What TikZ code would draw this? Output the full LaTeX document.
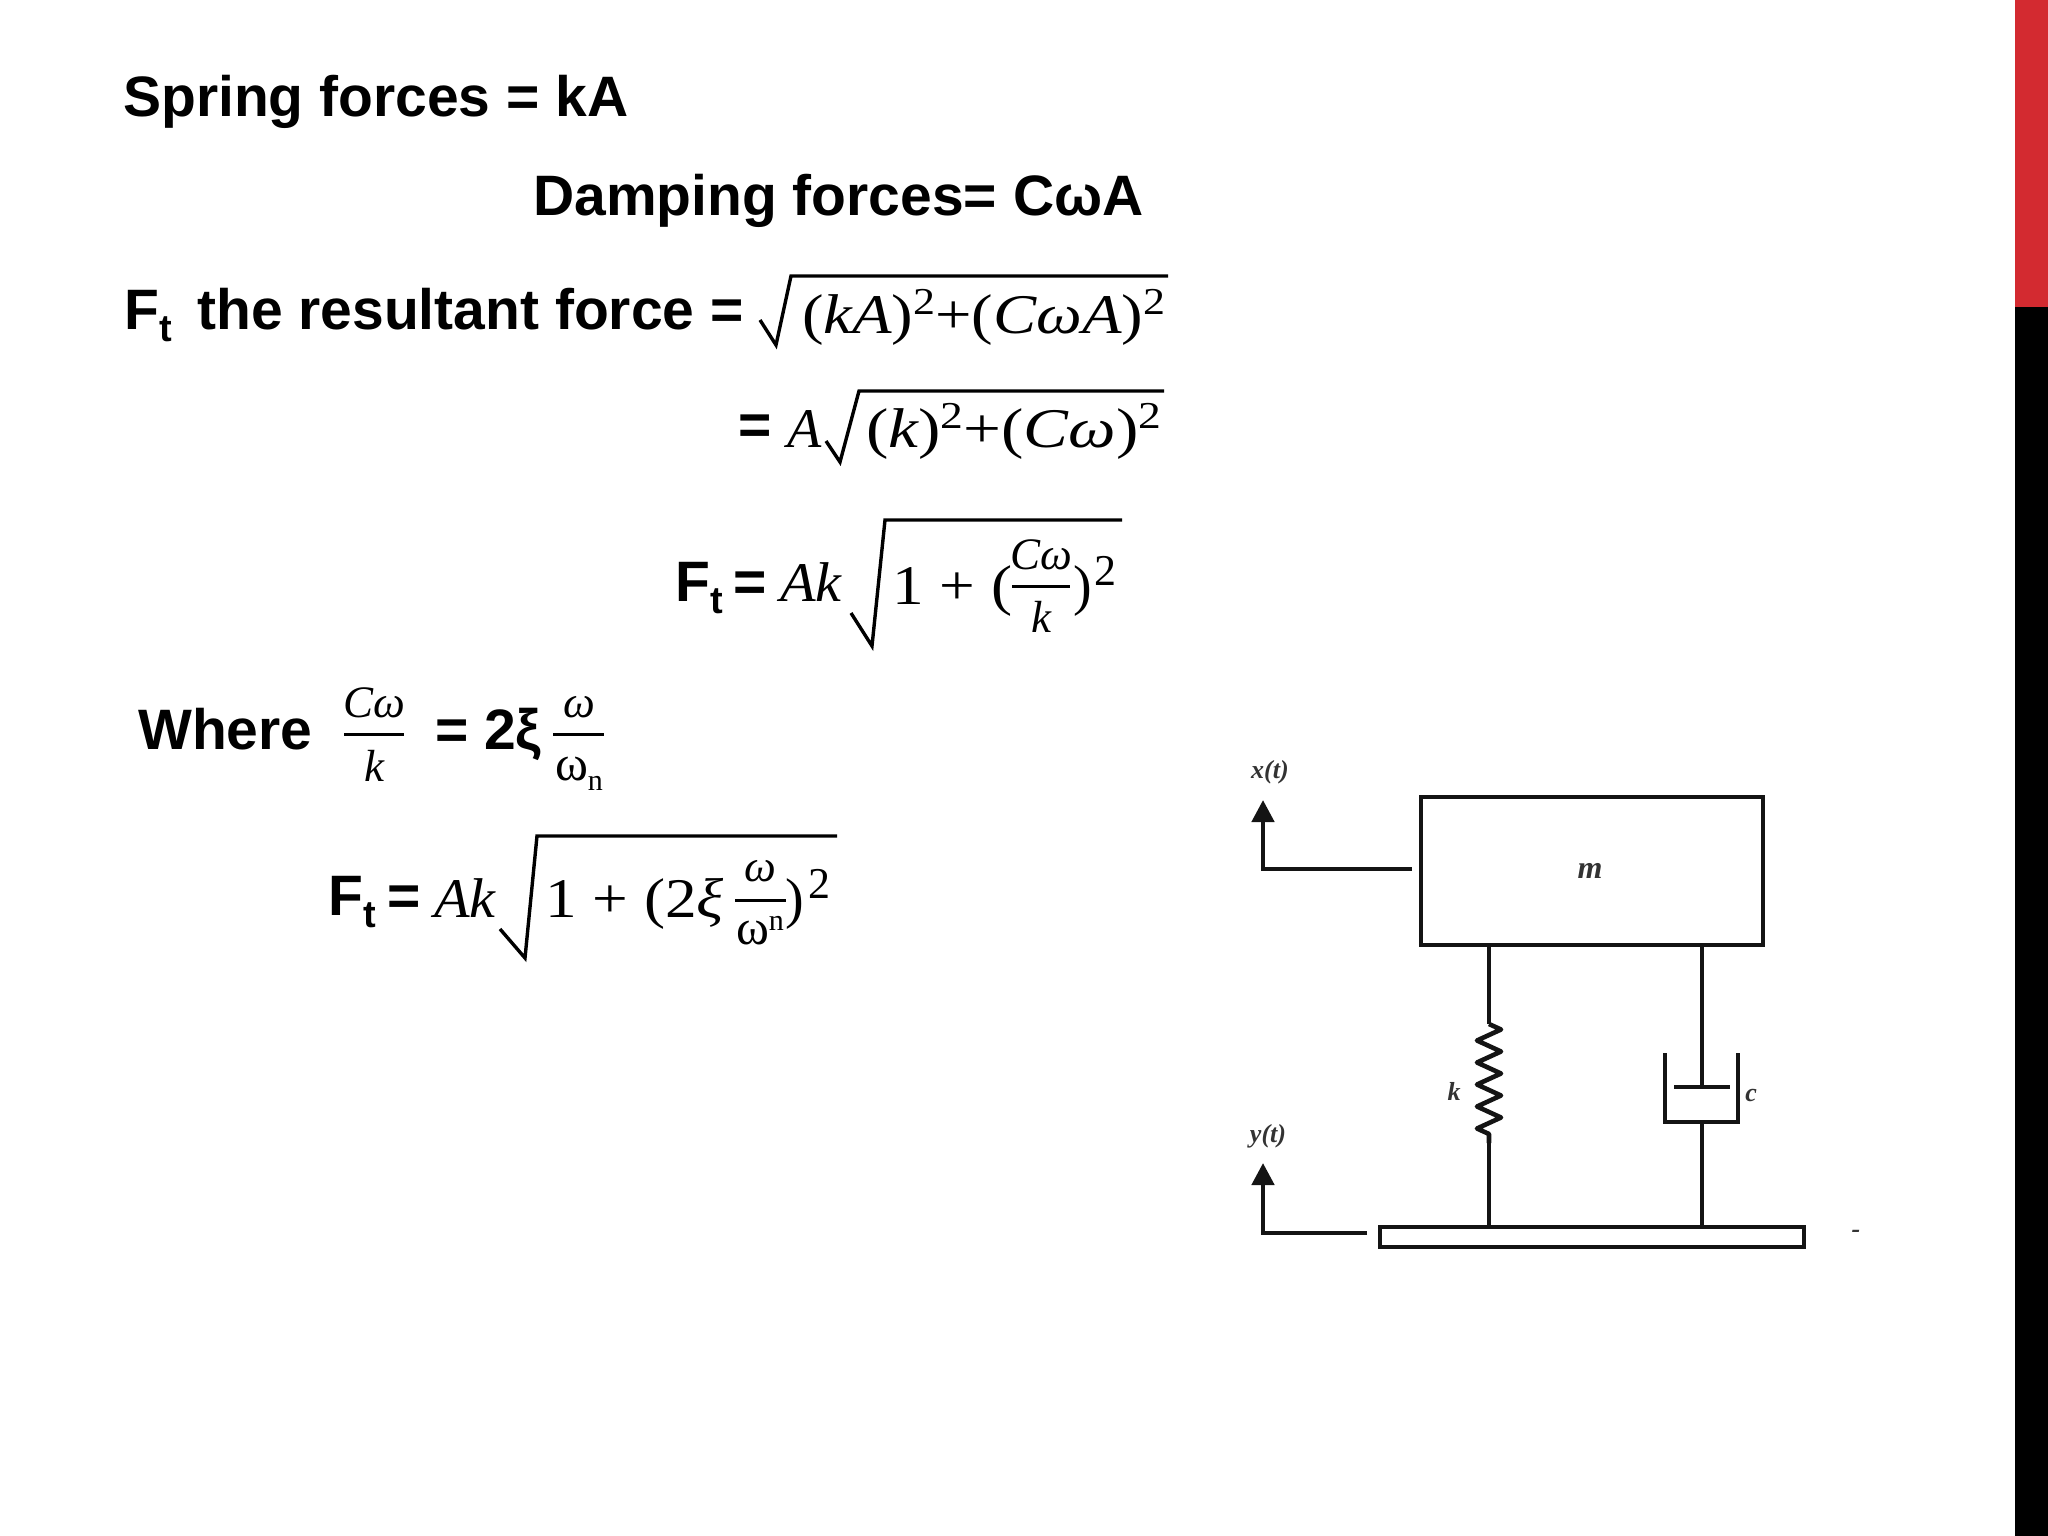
\documentclass[tikz,border=0pt]{standalone}
\usepackage{fontspec}
\usetikzlibrary{decorations.pathmorphing,arrows.meta}
\setmainfont{Liberation Sans}
\newfontfamily\mathserif{Liberation Serif}
\newcommand{\bigT}{\fontsize{57}{60}\selectfont\bfseries}
\newcommand{\Ft}{F\raisebox{-12pt}{\fontsize{38}{40}\selectfont t}}
\newcommand{\mth}{\fontsize{56}{60}\selectfont\mathserif}
\newcommand{\frc}{\fontsize{45}{48}\selectfont\mathserif}
\newcommand{\mi}[1]{{\itshape #1}}
\newcommand{\supr}[1]{\raisebox{19pt}{\fontsize{38}{40}\selectfont #1}}
\definecolor{bandred}{HTML}{D32A30}
\tikzset{x=1pt,y=-1pt,
  bt/.style={anchor=base west,inner sep=0pt,font=\bigT},
  mt/.style={anchor=base west,inner sep=0pt,font=\mth},
  mc/.style={anchor=base,inner sep=0pt,font=\mth},
  fc/.style={anchor=base,inner sep=0pt,font=\frc},
  rad/.style={line width=3.4pt,line join=miter},
  bar/.style={line width=3pt},
  sketch/.style={line width=4.6pt,draw=black!92},
  tiny/.style={inner sep=0pt,font=\mathserif\itshape\bfseries\fontsize{26}{28}\selectfont,text=black!80}
}
\begin{document}
\begin{tikzpicture}
\useasboundingbox (0,0) rectangle (2048,1536);
\fill[bandred] (2015,0) rectangle (2048,307);
\fill[black] (2015,307) rectangle (2048,1536);
% text
\node[bt] (l1) at (123,117) {Spring forces = kA};
\node[bt] (l2) at (533,215) {Damping forces= CωA};
\node[bt] (l3a) at (124,329) {\Ft};
\node[bt] (l3b) at (197,329) {the resultant force =};
\node[mt] (l3c) at (802,333) {\scalebox{1.155}[1]{(\mi{kA})\supr{2}+(\mi{CωA})\supr{2}}};
\draw[rad] (760,320) -- (776,345) -- (791,276) -- (1168,276);
\node[bt] (l4a) at (738,444) {=};
\node[mt] (l4b) at (787,447) {\mi{A}};
\draw[rad] (826,441) -- (840,462) -- (859,391) -- (1164,391);
\node[mt] (l4c) at (866,447) {\scalebox{1.2}[1]{(\mi{k})\supr{2}+(\mi{Cω})\supr{2}}};
\node[bt] (l5a) at (675,601) {\Ft};
\node[bt] (l5b) at (733,601) {=};
\node[mt] (l5c) at (780,601) {\scalebox{1.04}[1]{\mi{Ak}}};
\draw[rad] (851,613) -- (872,646) -- (885,520) -- (1122,520);
\node[mt] (l5d) at (892,604) {\scalebox{1.13}[1]{1 + (}};
\node[fc] (l5e) at (1041,569) {\mi{Cω}};
\draw[bar] (1012,586) -- (1070,586);
\node[fc] (l5f) at (1041,632) {\mi{k}};
\node[mt] (l5g) at (1073,604) {)\hspace{3pt}\supr{\fontsize{44}{46}\selectfont 2}};
\node[bt] (w1) at (138,749) {Where};
\node[fc] (w2) at (374,717) {\mi{Cω}};
\draw[bar] (344,734) -- (404,734);
\node[fc] (w3) at (374,781) {\mi{k}};
\node[bt] (w4) at (435,749) {= 2ξ};
\node[fc] (w5) at (579,717) {\mi{ω}};
\draw[bar] (553,734) -- (604,734);
\node[mc] (w6) at (579,780) {\fontsize{50}{52}\selectfont ω\raisebox{-10pt}{\fontsize{30}{32}\selectfont n}};
\node[bt] (f1) at (328,915) {\Ft};
\node[bt] (f2) at (387,915) {=};
\node[mt] (f3) at (434,917) {\scalebox{1.04}[1]{\mi{Ak}}};
\draw[rad] (500,929) -- (525,958) -- (537,836) -- (837,836);
\node[mt] (f4) at (545,917) {\scalebox{1.13}[1]{1 + (2\mi{ξ}}};
\node[fc] (f5) at (760,881) {\mi{ω}};
\draw[bar] (735,900) -- (786,900);
\node[mc] (f6) at (760,944) {\fontsize{50}{52}\selectfont ω\raisebox{14pt}{\fontsize{30}{32}\selectfont n}};
\node[mt] (f7) at (785,917) {)\hspace{5pt}\supr{\fontsize{44}{46}\selectfont 2}};
% mechanical sketch
\node[draw,sketch,minimum width=342pt,minimum height=148pt,inner sep=0pt] (mass) at (1592,871) {};
\node[inner sep=0pt,font=\mathserif\itshape\bfseries\fontsize{32}{34}\selectfont,text=black!80] (mlab) at (1590,871) {m};
\node[draw,sketch,minimum width=424pt,minimum height=20pt,inner sep=0pt] (plate) at (1592,1237) {};
\coordinate (sTop) at (1489,944);
\coordinate (sA) at (1489,1024);
\coordinate (sB) at (1489,1143);
\coordinate (sBot) at (1489,1227);
\draw[sketch] (sTop) -- (sA);
\draw[sketch,line join=round,decorate,decoration={zigzag,segment length=22pt,amplitude=12pt}] (sA) -- (sB);
\draw[sketch] (sB) -- (sBot);
\coordinate (dTop) at (1702,944);
\coordinate (dP) at (1702,1087);
\coordinate (dB) at (1702,1122);
\coordinate (dBot) at (1702,1227);
\draw[sketch] (dTop) -- (dP);
\draw[sketch] (1674,1087) -- (1730,1087);
\draw[sketch] (1665,1053) -- (1665,1122) -- (1738,1122) -- (1738,1053);
\draw[sketch] (dB) -- (dBot);
\coordinate (a1s) at (1412,869);
\coordinate (a1c) at (1263,869);
\coordinate (a1e) at (1263,800);
\draw[sketch,-{Triangle[length=22pt,width=22pt]}] (a1s) -- (a1c) -- (a1e);
\coordinate (a2s) at (1367,1233);
\coordinate (a2c) at (1263,1233);
\coordinate (a2e) at (1263,1163);
\draw[sketch,-{Triangle[length=22pt,width=22pt]}] (a2s) -- (a2c) -- (a2e);
\node[tiny] (xl) at (1270,772) {x(t)};
\node[tiny] (yl) at (1268,1136) {y(t)};
\node[tiny] (kl) at (1454,1091) {k};
\node[tiny] (cl) at (1751,1095) {c};
\node[tiny] (dash) at (1856,1234) {-};
\end{tikzpicture}
\end{document}
